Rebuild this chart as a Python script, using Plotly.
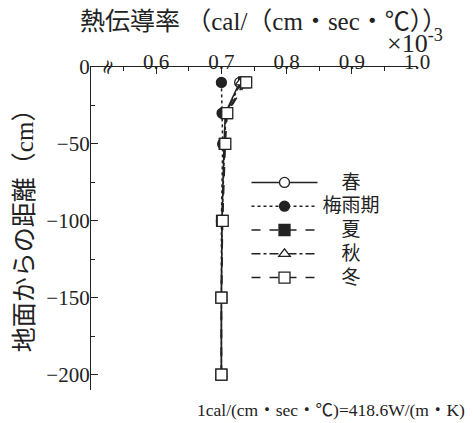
import plotly.graph_objects as go

depth = [-10, -30, -50, -100, -150, -200]
spring = [0.728, 0.706, 0.704, 0.701, 0.700, 0.700]
rainy = [0.700, 0.701, 0.702, 0.700, 0.700, 0.700]
summer = [0.735, 0.708, 0.705, 0.701, 0.700, 0.700]
autumn = [0.730, 0.707, 0.705, 0.701, 0.700, 0.700]
winter = [0.738, 0.709, 0.706, 0.702, 0.700, 0.700]

names = ["　春", "梅雨期", "　夏", "　秋", "　冬"]
series = [spring, rainy, summer, autumn, winter]
dashes = ["solid", "dot", "dash", "dashdot", "dash"]
symbols = ["circle", "circle", "square", "triangle-up", "square"]
fills = ["white", "#222222", "#222222", "white", "white"]

xticks = [0.6, 0.7, 0.8, 0.9, 1.0]
xticktext = ["0.6", "0.7", "0.8", "0.9", "1.0"]
yticks = [0, -50, -100, -150, -200]

INK = "#222222"
SERIF = "Liberation Serif"
MIX = "Liberation Serif, Noto Sans CJK JP"
JP = "Noto Sans CJK JP"

fig = go.Figure()
for name, vals, dash, sym, fill in zip(names, series, dashes, symbols, fills):
    fig.add_trace(go.Scatter(
        x=vals, y=depth, name='<span style="font-size:19px">' + name + '</span>',
        mode="lines+markers",
        line=dict(color=INK, width=1.5, dash=dash),
        marker=dict(symbol=sym, size=11 if sym == "square" else 10,
                    color=fill, line=dict(color=INK, width=1.3)),
    ))

# page body has an 8px margin: the figure is sized/offset to compensate
fig.update_layout(
    width=465, height=415,
    margin=dict(l=83, r=56, t=59, b=33, autoexpand=False),
    paper_bgcolor="white", plot_bgcolor="white",
    font=dict(family=MIX, color=INK, size=18),
    showlegend=True,
    legend=dict(x=0.477, y=0.695, xanchor="left", yanchor="top",
                bgcolor="rgba(0,0,0,0)", itemwidth=66,
                font=dict(family=JP, size=16, color=INK),
                tracegroupgap=0),
    xaxis=dict(side="top", range=[0.5, 1.0], tickvals=xticks, ticktext=xticktext,
               automargin=False, ticklabelstandoff=-11,
               ticks="inside", ticklen=7, tickwidth=1.2, tickcolor=INK, showline=True, linecolor=INK,
               linewidth=1.2, showgrid=False, zeroline=False,
               tickfont=dict(family=SERIF, size=21, color=INK),
               minor=dict(dtick=0.05, tick0=0.5, ticks="inside", ticklen=4, tickcolor=INK)),
    yaxis=dict(range=[-210, 0], tickvals=yticks, automargin=False, ticklabelstandoff=-4,
               ticks="inside", ticklen=7, tickwidth=1.2, tickcolor=INK,
               showline=True, linecolor=INK, linewidth=1.2, showgrid=False, zeroline=False,
               tickfont=dict(family=SERIF, size=21, color=INK),
               minor=dict(dtick=25, tick0=0, ticks="inside", ticklen=4, tickcolor=INK)),
)

fig.add_annotation(xref="paper", yref="paper", x=-0.202, y=0.514, xanchor="center", yanchor="middle",
                   text="地面からの距離（cm）", textangle=-90, showarrow=False,
                   font=dict(family=MIX, size=25, color=INK))
fig.add_annotation(xref="paper", yref="paper", x=0.53, y=1.141, xanchor="center", yanchor="middle",
                   text="熱伝導率 （cal/（cm・sec・℃））", showarrow=False,
                   font=dict(family=MIX, size=25, color=INK))
fig.add_annotation(xref="paper", yref="paper", x=0.994, y=1.08, xanchor="center", yanchor="middle",
                   text="×10<sup>-3</sup>", showarrow=False, font=dict(family=SERIF, size=26, color=INK))
fig.add_annotation(xref="paper", yref="paper", x=0.319, xanchor="left", y=-0.062, yanchor="middle",
                   text="1cal/(cm・sec・℃)=418.6W/(m・K)",
                   showarrow=False, font=dict(family=MIX, size=17.5, color=INK))
fig.add_annotation(xref="x", yref="paper", x=0.525, y=1.0, xanchor="center", yanchor="middle",
                   text="≈", textangle=-70, showarrow=False,
                   font=dict(family="DejaVu Serif", size=20, color=INK))

fig.write_html("out.html")
